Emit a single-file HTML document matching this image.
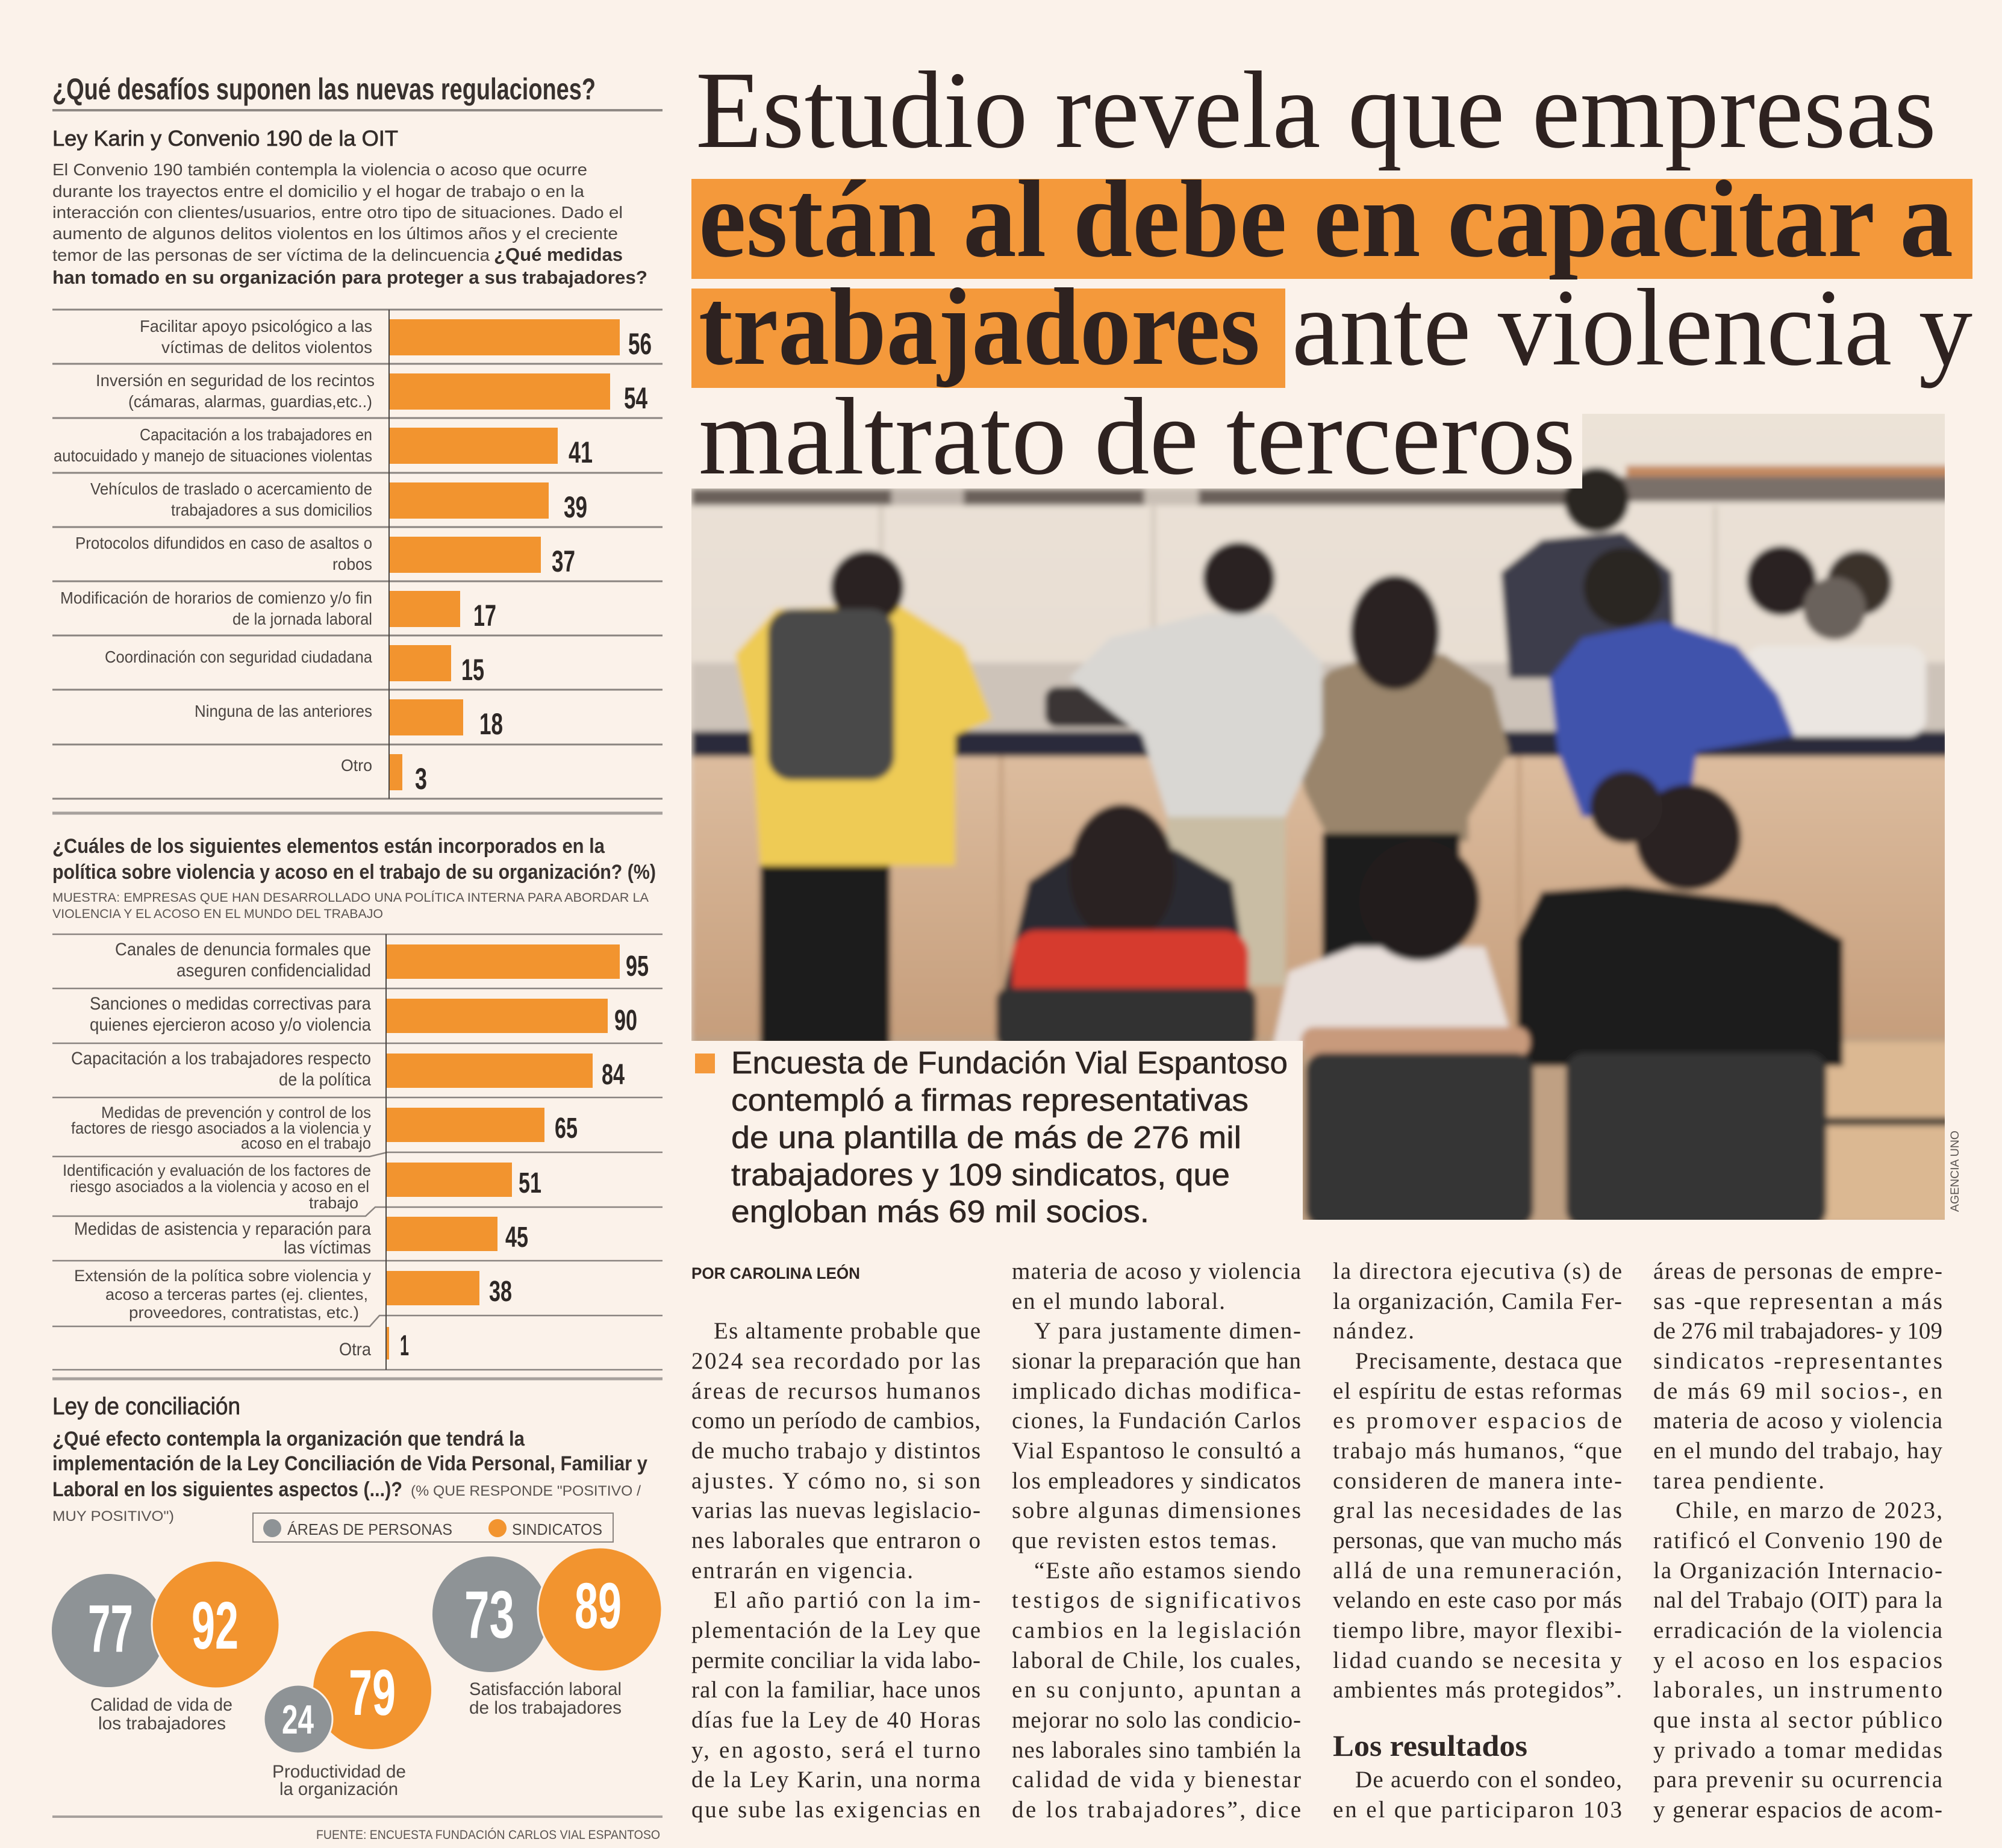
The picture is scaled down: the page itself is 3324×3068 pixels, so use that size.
<!DOCTYPE html>
<html><head><meta charset="utf-8"><style>html,body{margin:0;padding:0;background:#fbf2ea}svg{display:block}</style></head>
<body>
<svg xmlns="http://www.w3.org/2000/svg" width="3324" height="3068" viewBox="0 0 3324 3068">
<defs>
<filter id="bl" x="-5%" y="-5%" width="110%" height="110%"><feGaussianBlur stdDeviation="5"/></filter>
<clipPath id="pc"><path d="M1148,811 L2627,811 L2627,687 L3229,687 L3229,2025 L2163,2025 L2163,1728 L1148,1728 Z"/></clipPath>
<linearGradient id="ctr" x1="0" y1="0" x2="0" y2="1"><stop offset="0" stop-color="#dcbc9e"/><stop offset="1" stop-color="#c59d7b"/></linearGradient>
<linearGradient id="wall" x1="0" y1="0" x2="0" y2="1"><stop offset="0" stop-color="#ece3d8"/><stop offset="1" stop-color="#ddd2c6"/></linearGradient>
</defs>
<rect width="3324" height="3068" fill="#fbf2ea"/>

<!-- ================= LEFT COLUMN ================= -->
<g font-family="'Liberation Sans','DejaVu Sans',sans-serif">
<text x="87" y="165" font-size="50" font-weight="bold" fill="#38312e" textLength="902" lengthAdjust="spacingAndGlyphs">¿Qué desafíos suponen las nuevas regulaciones?</text>
<line x1="87" y1="183" x2="1100" y2="183" stroke="#8f8985" stroke-width="4"/>
<text x="87" y="242" font-size="36" fill="#342d2a" stroke="#342d2a" stroke-width="0.8" textLength="574" lengthAdjust="spacingAndGlyphs">Ley Karin y Convenio 190 de la OIT</text>
<g font-size="28" fill="#4b4542">
<text x="87" y="291" textLength="888" lengthAdjust="spacingAndGlyphs">El Convenio 190 también contempla la violencia o acoso que ocurre</text>
<text x="87" y="327" textLength="883" lengthAdjust="spacingAndGlyphs">durante los trayectos entre el domicilio y el hogar de trabajo o en la</text>
<text x="87" y="362" textLength="947" lengthAdjust="spacingAndGlyphs">interacción con clientes/usuarios, entre otro tipo de situaciones. Dado el</text>
<text x="87" y="397" textLength="939" lengthAdjust="spacingAndGlyphs">aumento de algunos delitos violentos en los últimos años y el creciente</text>
<text x="87" y="433" textLength="726" lengthAdjust="spacingAndGlyphs">temor de las personas de ser víctima de la delincuencia</text>
</g>
<g font-size="31" font-weight="bold" fill="#38312e">
<text x="820" y="433" textLength="214" lengthAdjust="spacingAndGlyphs">¿Qué medidas</text>
<text x="87" y="471" textLength="988" lengthAdjust="spacingAndGlyphs">han tomado en su organización para proteger a sus trabajadores?</text>
</g>

<!-- chart 1 -->
<g stroke="#8a8480" stroke-width="3">
<line x1="87" y1="514" x2="1100" y2="514"/>
<line x1="87" y1="604" x2="1100" y2="604"/>
<line x1="87" y1="694" x2="1100" y2="694"/>
<line x1="87" y1="785" x2="1100" y2="785"/>
<line x1="87" y1="875" x2="1100" y2="875"/>
<line x1="87" y1="965" x2="1100" y2="965"/>
<line x1="87" y1="1055" x2="1100" y2="1055"/>
<line x1="87" y1="1145" x2="1100" y2="1145"/>
<line x1="87" y1="1236" x2="1100" y2="1236"/>
<line x1="87" y1="1326" x2="1100" y2="1326"/>
</g>
<line x1="87" y1="1350" x2="1100" y2="1350" stroke="#a7a19d" stroke-width="5"/>
<g fill="#f2942f">
<rect x="646" y="530" width="383" height="60"/>
<rect x="646" y="620" width="367" height="60"/>
<rect x="646" y="710" width="280" height="60"/>
<rect x="646" y="801" width="265" height="60"/>
<rect x="646" y="891" width="252" height="60"/>
<rect x="646" y="981" width="118" height="60"/>
<rect x="646" y="1071" width="103" height="60"/>
<rect x="646" y="1161" width="123" height="60"/>
<rect x="646" y="1252" width="22" height="60"/>
</g>
<line x1="646" y1="514" x2="646" y2="1326" stroke="#4a4542" stroke-width="2"/>
<g font-size="50" font-weight="bold" fill="#2e2826">
<text x="1043" y="588" textLength="39" lengthAdjust="spacingAndGlyphs">56</text>
<text x="1036" y="678" textLength="39" lengthAdjust="spacingAndGlyphs">54</text>
<text x="944" y="768" textLength="40" lengthAdjust="spacingAndGlyphs">41</text>
<text x="936" y="859" textLength="39" lengthAdjust="spacingAndGlyphs">39</text>
<text x="916" y="949" textLength="39" lengthAdjust="spacingAndGlyphs">37</text>
<text x="786" y="1039" textLength="38" lengthAdjust="spacingAndGlyphs">17</text>
<text x="766" y="1129" textLength="38" lengthAdjust="spacingAndGlyphs">15</text>
<text x="796" y="1219" textLength="39" lengthAdjust="spacingAndGlyphs">18</text>
<text x="689" y="1310" textLength="20" lengthAdjust="spacingAndGlyphs">3</text>
</g>
<g font-size="28" fill="#4b4542">
<text x="232" y="551" textLength="386" lengthAdjust="spacingAndGlyphs">Facilitar apoyo psicológico a las</text>
<text x="268" y="586" textLength="350" lengthAdjust="spacingAndGlyphs">víctimas de delitos violentos</text>
<text x="159" y="641" textLength="463" lengthAdjust="spacingAndGlyphs">Inversión en seguridad de los recintos</text>
<text x="213" y="676" textLength="405" lengthAdjust="spacingAndGlyphs">(cámaras, alarmas, guardias,etc..)</text>
<text x="232" y="731" textLength="386" lengthAdjust="spacingAndGlyphs">Capacitación a los trabajadores en</text>
<text x="89" y="766" textLength="529" lengthAdjust="spacingAndGlyphs">autocuidado y manejo de situaciones violentas</text>
<text x="150" y="821" textLength="468" lengthAdjust="spacingAndGlyphs">Vehículos de traslado o acercamiento de</text>
<text x="284" y="856" textLength="334" lengthAdjust="spacingAndGlyphs">trabajadores a sus domicilios</text>
<text x="125" y="911" textLength="493" lengthAdjust="spacingAndGlyphs">Protocolos difundidos en caso de asaltos o</text>
<text x="552" y="946" textLength="66" lengthAdjust="spacingAndGlyphs">robos</text>
<text x="100" y="1002" textLength="518" lengthAdjust="spacingAndGlyphs">Modificación de horarios de comienzo y/o fin</text>
<text x="386" y="1037" textLength="232" lengthAdjust="spacingAndGlyphs">de la jornada laboral</text>
<text x="174" y="1100" textLength="444" lengthAdjust="spacingAndGlyphs">Coordinación con seguridad ciudadana</text>
<text x="323" y="1190" textLength="295" lengthAdjust="spacingAndGlyphs">Ninguna de las anteriores</text>
<text x="566" y="1280" textLength="52" lengthAdjust="spacingAndGlyphs">Otro</text>
</g>

<!-- chart 2 -->
<g font-size="34" font-weight="bold" fill="#38312e">
<text x="87" y="1416" textLength="917" lengthAdjust="spacingAndGlyphs">¿Cuáles de los siguientes elementos están incorporados en la</text>
<text x="87" y="1459" textLength="1002" lengthAdjust="spacingAndGlyphs">política sobre violencia y acoso en el trabajo de su organización? (%)</text>
</g>
<g font-size="21" fill="#5a5451">
<text x="87" y="1497" textLength="990" lengthAdjust="spacingAndGlyphs">MUESTRA: EMPRESAS QUE HAN DESARROLLADO UNA POLÍTICA INTERNA PARA ABORDAR LA</text>
<text x="87" y="1524" textLength="549" lengthAdjust="spacingAndGlyphs">VIOLENCIA Y EL ACOSO EN EL MUNDO DEL TRABAJO</text>
</g>
<g stroke="#8a8480" stroke-width="2.5" fill="none">
<line x1="87" y1="1551" x2="1100" y2="1551"/>
<line x1="87" y1="1641" x2="1100" y2="1641"/>
<line x1="87" y1="1732" x2="1100" y2="1732"/>
<line x1="87" y1="1822" x2="1100" y2="1822"/>
<polyline points="87,1920 614,1920 643,1913 1100,1913"/>
<polyline points="87,2019 607,2019 623,2004 1100,2004"/>
<line x1="87" y1="2093" x2="1100" y2="2093"/>
<polyline points="87,2202 614,2202 630,2184 1100,2184"/>
<line x1="87" y1="2274" x2="1100" y2="2274"/>
</g>
<line x1="87" y1="2289" x2="1100" y2="2289" stroke="#a7a19d" stroke-width="5"/>
<g fill="#f2942f">
<rect x="641" y="1568" width="388" height="57"/>
<rect x="641" y="1658" width="368" height="57"/>
<rect x="641" y="1749" width="343" height="57"/>
<rect x="641" y="1839" width="263" height="57"/>
<rect x="641" y="1930" width="209" height="57"/>
<rect x="641" y="2020" width="185" height="57"/>
<rect x="641" y="2110" width="155" height="57"/>
<rect x="641" y="2203" width="5" height="54"/>
</g>
<line x1="641" y1="1551" x2="641" y2="2274" stroke="#4a4542" stroke-width="2"/>
<g font-size="48" font-weight="bold" fill="#2e2826">
<text x="1039" y="1620" textLength="38" lengthAdjust="spacingAndGlyphs">95</text>
<text x="1020" y="1710" textLength="38" lengthAdjust="spacingAndGlyphs">90</text>
<text x="999" y="1800" textLength="38" lengthAdjust="spacingAndGlyphs">84</text>
<text x="921" y="1889" textLength="38" lengthAdjust="spacingAndGlyphs">65</text>
<text x="861" y="1980" textLength="38" lengthAdjust="spacingAndGlyphs">51</text>
<text x="839" y="2070" textLength="38" lengthAdjust="spacingAndGlyphs">45</text>
<text x="812" y="2160" textLength="38" lengthAdjust="spacingAndGlyphs">38</text>
<text x="664" y="2250" textLength="15" lengthAdjust="spacingAndGlyphs">1</text>
</g>
<g font-size="30" fill="#4b4542">
<text x="191" y="1586" textLength="425" lengthAdjust="spacingAndGlyphs">Canales de denuncia formales que</text>
<text x="293" y="1621" textLength="323" lengthAdjust="spacingAndGlyphs">aseguren confidencialidad</text>
<text x="149" y="1676" textLength="467" lengthAdjust="spacingAndGlyphs">Sanciones o medidas correctivas para</text>
<text x="149" y="1711" textLength="467" lengthAdjust="spacingAndGlyphs">quienes ejercieron acoso y/o violencia</text>
<text x="118" y="1767" textLength="498" lengthAdjust="spacingAndGlyphs">Capacitación a los trabajadores respecto</text>
<text x="463" y="1802" textLength="153" lengthAdjust="spacingAndGlyphs">de la política</text>
<text x="123" y="2050" textLength="493" lengthAdjust="spacingAndGlyphs">Medidas de asistencia y reparación para</text>
<text x="471" y="2081" textLength="145" lengthAdjust="spacingAndGlyphs">las víctimas</text>
<text x="563" y="2250" textLength="53" lengthAdjust="spacingAndGlyphs">Otra</text>
</g>
<g font-size="27" fill="#4b4542">
<text x="168" y="1856" textLength="448" lengthAdjust="spacingAndGlyphs">Medidas de prevención y control de los</text>
<text x="118" y="1882" textLength="498" lengthAdjust="spacingAndGlyphs">factores de riesgo asociados a la violencia y</text>
<text x="400" y="1907" textLength="216" lengthAdjust="spacingAndGlyphs">acoso en el trabajo</text>
<text x="104" y="1952" textLength="512" lengthAdjust="spacingAndGlyphs">Identificación y evaluación de los factores de</text>
<text x="116" y="1979" textLength="497" lengthAdjust="spacingAndGlyphs">riesgo asociados a la violencia y acoso en el</text>
<text x="513" y="2006" textLength="82" lengthAdjust="spacingAndGlyphs">trabajo</text>
<text x="123" y="2127" textLength="493" lengthAdjust="spacingAndGlyphs">Extensión de la política sobre violencia y</text>
<text x="175" y="2158" textLength="436" lengthAdjust="spacingAndGlyphs">acoso a terceras partes (ej. clientes,</text>
<text x="214" y="2188" textLength="382" lengthAdjust="spacingAndGlyphs">proveedores, contratistas, etc.)</text>
</g>

<!-- Ley de conciliación -->
<text x="87" y="2348" font-size="40" fill="#342d2a" stroke="#342d2a" stroke-width="0.8" textLength="312" lengthAdjust="spacingAndGlyphs">Ley de conciliación</text>
<g font-size="34" font-weight="bold" fill="#38312e">
<text x="87" y="2400" textLength="784" lengthAdjust="spacingAndGlyphs">¿Qué efecto contempla la organización que tendrá la</text>
<text x="87" y="2441" textLength="988" lengthAdjust="spacingAndGlyphs">implementación de la Ley Conciliación de Vida Personal, Familiar y</text>
<text x="87" y="2484" textLength="581" lengthAdjust="spacingAndGlyphs">Laboral en los siguientes aspectos (...)?</text>
</g>
<g font-size="24" fill="#5a5451">
<text x="682" y="2483" textLength="382" lengthAdjust="spacingAndGlyphs">(% QUE RESPONDE "POSITIVO /</text>
<text x="87" y="2525" textLength="202" lengthAdjust="spacingAndGlyphs">MUY POSITIVO")</text>
</g>
<rect x="420" y="2512" width="598" height="48" fill="none" stroke="#8a8480" stroke-width="2"/>
<circle cx="452" cy="2537" r="15" fill="#8e9396"/>
<circle cx="826" cy="2537" r="15" fill="#f2942f"/>
<g font-size="26" fill="#4b4542">
<text x="477" y="2548" textLength="274" lengthAdjust="spacingAndGlyphs">ÁREAS DE PERSONAS</text>
<text x="850" y="2548" textLength="150" lengthAdjust="spacingAndGlyphs">SINDICATOS</text>
</g>
<circle cx="180" cy="2707" r="94" fill="#8e9396"/>
<circle cx="358" cy="2697" r="106" fill="#f2942f" stroke="#fbf2ea" stroke-width="3"/>
<circle cx="618" cy="2806" r="98" fill="#f2942f"/>
<circle cx="495" cy="2854" r="57" fill="#8e9396" stroke="#fbf2ea" stroke-width="3"/>
<circle cx="814" cy="2680" r="96" fill="#8e9396"/>
<circle cx="996" cy="2672" r="103" fill="#f2942f" stroke="#fbf2ea" stroke-width="3"/>
<g font-weight="bold" fill="#ffffff">
<text x="146" y="2742" font-size="111" textLength="75" lengthAdjust="spacingAndGlyphs">77</text>
<text x="318" y="2737" font-size="111" textLength="78" lengthAdjust="spacingAndGlyphs">92</text>
<text x="771" y="2719" font-size="111" textLength="83" lengthAdjust="spacingAndGlyphs">73</text>
<text x="954" y="2703" font-size="108" textLength="78" lengthAdjust="spacingAndGlyphs">89</text>
<text x="579" y="2847" font-size="108" textLength="78" lengthAdjust="spacingAndGlyphs">79</text>
<text x="468" y="2878" font-size="68" textLength="53" lengthAdjust="spacingAndGlyphs">24</text>
</g>
<g font-size="30" fill="#4b4542">
<text x="150" y="2840" textLength="236" lengthAdjust="spacingAndGlyphs">Calidad de vida de</text>
<text x="163" y="2871" textLength="212" lengthAdjust="spacingAndGlyphs">los trabajadores</text>
<text x="452" y="2951" textLength="222" lengthAdjust="spacingAndGlyphs">Productividad de</text>
<text x="464" y="2980" textLength="197" lengthAdjust="spacingAndGlyphs">la organización</text>
<text x="779" y="2814" textLength="253" lengthAdjust="spacingAndGlyphs">Satisfacción laboral</text>
<text x="779" y="2845" textLength="253" lengthAdjust="spacingAndGlyphs">de los trabajadores</text>
</g>
<line x1="87" y1="3016" x2="1100" y2="3016" stroke="#a7a19d" stroke-width="4"/>
<text x="525" y="3053" font-size="21" fill="#5a5451" textLength="571" lengthAdjust="spacingAndGlyphs">FUENTE: ENCUESTA FUNDACIÓN CARLOS VIAL ESPANTOSO</text>
</g>

<!-- ================= PHOTO ================= -->
<g clip-path="url(#pc)">
<g filter="url(#bl)">
<rect x="1100" y="650" width="2200" height="1420" fill="url(#wall)"/>
<rect x="2700" y="773" width="540" height="18" fill="#c48a60"/>
<rect x="2640" y="791" width="600" height="42" fill="#7a7069"/>
<rect x="1148" y="811" width="1480" height="28" fill="#6a615a"/>
<rect x="1480" y="811" width="120" height="28" fill="#bdb3aa"/>
<rect x="1900" y="811" width="90" height="28" fill="#c9bfb5"/>
<rect x="1460" y="840" width="6" height="380" fill="#cfc4b8"/>
<rect x="1912" y="840" width="6" height="380" fill="#cfc4b8"/>
<rect x="2845" y="840" width="6" height="380" fill="#cfc4b8"/>
<rect x="1148" y="1100" width="2090" height="114" fill="#cdc3b9"/>
<rect x="1148" y="1214" width="2090" height="42" fill="#292b3a"/>
<rect x="1148" y="1256" width="2090" height="480" fill="url(#ctr)"/>
<rect x="1660" y="1256" width="5" height="470" fill="#b99473"/>
<rect x="2520" y="1256" width="5" height="470" fill="#b99473"/>
<rect x="1148" y="1720" width="2090" height="320" fill="#bfa083"/>
<rect x="3030" y="1730" width="210" height="300" fill="#dbb892"/>
<rect x="3030" y="1855" width="210" height="14" fill="#4a3f38"/>

<!-- standing people -->
<polygon points="2492,950 2560,896 2695,883 2776,950 2783,1126 2506,1126" fill="#3d3e4b"/>
<circle cx="2651" cy="830" r="54" fill="#2c2624"/>
<rect x="2898" y="1072" width="300" height="150" rx="30" fill="#ebe6e1"/>
<circle cx="2958" cy="964" r="58" fill="#2a2321"/>
<circle cx="3087" cy="968" r="54" fill="#3a302c"/>
<circle cx="3046" cy="1010" r="52" fill="#6a625c"/>
<polygon points="2573,1126 2627,1059 2762,1032 2884,1072 2952,1153 2979,1221 2817,1248 2803,1356 2627,1356 2587,1248" fill="#4052ac"/>
<circle cx="2695" cy="975" r="66" fill="#2b2624"/>
<polygon points="2140,1194 2208,1113 2289,1086 2397,1086 2478,1140 2506,1248 2438,1356 2438,1397 2208,1397 2167,1315" fill="#9a856c"/>
<ellipse cx="2316" cy="1050" rx="74" ry="95" fill="#2b2220"/>
<rect x="2195" y="1383" width="229" height="250" fill="#1f1d1e"/>
<rect x="1735" y="1140" width="162" height="67" rx="20" fill="#3a3634"/>
<polygon points="1775,1126 1843,1059 2005,1018 2113,1018 2195,1099 2195,1221 2134,1356 1938,1356 1897,1221" fill="#d9d7d3"/>
<circle cx="2057" cy="960" r="60" fill="#2a2422"/>
<rect x="1938" y="1356" width="196" height="280" fill="#c9bda4"/>
<polygon points="1221,1086 1289,1011 1492,1004 1600,1072 1647,1194 1586,1221 1586,1437 1262,1437 1248,1221" fill="#eecb55"/>
<circle cx="1440" cy="975" r="61" fill="#2a2320"/>
<rect x="1275" y="1011" width="210" height="284" rx="40" fill="#4a4a48"/>
<rect x="1262" y="1437" width="216" height="300" fill="#1e1c1c"/>

<!-- seated people -->
<polygon points="1667,1640 1708,1464 1789,1410 1951,1410 2046,1464 2073,1640" fill="#2a2a33"/>
<ellipse cx="1863" cy="1450" rx="88" ry="115" fill="#2a2320"/>
<rect x="1681" y="1545" width="392" height="150" rx="40" fill="#d63a2d"/>
<rect x="1654" y="1640" width="432" height="100" rx="20" fill="#333333"/>
<polygon points="2519,1560 2560,1480 2700,1470 2950,1500 3060,1560 3060,1770 2519,1770" fill="#1f1d1f"/>
<circle cx="2803" cy="1390" r="88" fill="#2a2422"/>
<circle cx="2700" cy="1340" r="60" fill="#2e2826"/>
<polygon points="2113,1740 2140,1613 2249,1572 2465,1572 2506,1707 2492,1750" fill="#e8dfda"/>
<circle cx="2357" cy="1495" r="100" fill="#241d1c"/>
<rect x="2160" y="1705" width="380" height="50" rx="22" fill="#c89a7c"/>
<rect x="2168" y="1748" width="378" height="290" rx="30" fill="#353535"/>
<rect x="2600" y="1748" width="433" height="290" rx="30" fill="#363636"/>
</g>
</g>
<text transform="translate(3252,2012) rotate(-90)" font-family="'Liberation Sans',sans-serif" font-size="19" fill="#5a5451" textLength="135" lengthAdjust="spacingAndGlyphs">AGENCIA UNO</text>

<!-- ================= HEADLINE ================= -->
<rect x="1148" y="297" width="2127" height="166" fill="#f4993b"/>
<rect x="1148" y="479" width="986" height="165" fill="#f4993b"/>
<g font-family="'Liberation Serif','DejaVu Serif',serif" font-size="183" fill="#2e2220">
<text x="1155" y="244" textLength="2060" lengthAdjust="spacingAndGlyphs">Estudio revela que empresas</text>
<text x="1160" y="425" font-weight="bold" textLength="2083" lengthAdjust="spacingAndGlyphs">están al debe en capacitar a</text>
<text x="1160" y="604" font-weight="bold" textLength="932" lengthAdjust="spacingAndGlyphs">trabajadores</text>
<text x="2145" y="605" textLength="1130" lengthAdjust="spacingAndGlyphs">ante violencia y</text>
<text x="1160" y="786" textLength="1456" lengthAdjust="spacingAndGlyphs">maltrato de terceros</text>
</g>

<!-- ================= CAPTION ================= -->
<rect x="1154" y="1749" width="33" height="33" fill="#f4993b"/>
<g font-family="'Liberation Sans','DejaVu Sans',sans-serif" font-size="52" fill="#2e2522" stroke="#2e2522" stroke-width="0.6">
<text x="1214" y="1782" textLength="924" lengthAdjust="spacingAndGlyphs">Encuesta de Fundación Vial Espantoso</text>
<text x="1214" y="1844" textLength="859" lengthAdjust="spacingAndGlyphs">contempló a firmas representativas</text>
<text x="1214" y="1906" textLength="847" lengthAdjust="spacingAndGlyphs">de una plantilla de más de 276 mil</text>
<text x="1214" y="1968" textLength="828" lengthAdjust="spacingAndGlyphs">trabajadores y 109 sindicatos, que</text>
<text x="1214" y="2029" textLength="694" lengthAdjust="spacingAndGlyphs">engloban más 69 mil socios.</text>
</g>

<!-- ================= BODY ================= -->
<text x="1148" y="2123" font-family="'Liberation Sans','DejaVu Sans',sans-serif" font-size="27" font-weight="bold" fill="#2e2522" textLength="280" lengthAdjust="spacingAndGlyphs">POR CAROLINA LEÓN</text>
<g font-family="'Liberation Serif','DejaVu Serif',serif" font-size="39" fill="#2f2725">
<!-- col 1 -->
<text x="1185" y="2222" textLength="443" lengthAdjust="spacing">Es altamente probable que</text>
<text x="1148" y="2272" textLength="480" lengthAdjust="spacing">2024 sea recordado por las</text>
<text x="1148" y="2322" textLength="480" lengthAdjust="spacing">áreas de recursos humanos</text>
<text x="1148" y="2371" textLength="480" lengthAdjust="spacing">como un período de cambios,</text>
<text x="1148" y="2421" textLength="480" lengthAdjust="spacing">de mucho trabajo y distintos</text>
<text x="1148" y="2471" textLength="480" lengthAdjust="spacing">ajustes. Y cómo no, si son</text>
<text x="1148" y="2520" textLength="480" lengthAdjust="spacing">varias las nuevas legislacio-</text>
<text x="1148" y="2570" textLength="480" lengthAdjust="spacing">nes laborales que entraron o</text>
<text x="1148" y="2620" textLength="368" lengthAdjust="spacing">entrarán en vigencia.</text>
<text x="1185" y="2669" textLength="443" lengthAdjust="spacing">El año partió con la im-</text>
<text x="1148" y="2719" textLength="480" lengthAdjust="spacing">plementación de la Ley que</text>
<text x="1148" y="2769" textLength="480" lengthAdjust="spacing">permite conciliar la vida labo-</text>
<text x="1148" y="2818" textLength="480" lengthAdjust="spacing">ral con la familiar, hace unos</text>
<text x="1148" y="2868" textLength="480" lengthAdjust="spacing">días fue la Ley de 40 Horas</text>
<text x="1148" y="2918" textLength="480" lengthAdjust="spacing">y, en agosto, será el turno</text>
<text x="1148" y="2967" textLength="480" lengthAdjust="spacing">de la Ley Karin, una norma</text>
<text x="1148" y="3017" textLength="480" lengthAdjust="spacing">que sube las exigencias en</text>
<!-- col 2 -->
<text x="1680" y="2123" textLength="480" lengthAdjust="spacing">materia de acoso y violencia</text>
<text x="1680" y="2173" textLength="354" lengthAdjust="spacing">en el mundo laboral.</text>
<text x="1717" y="2222" textLength="443" lengthAdjust="spacing">Y para justamente dimen-</text>
<text x="1680" y="2272" textLength="480" lengthAdjust="spacing">sionar la preparación que han</text>
<text x="1680" y="2322" textLength="480" lengthAdjust="spacing">implicado dichas modifica-</text>
<text x="1680" y="2371" textLength="480" lengthAdjust="spacing">ciones, la Fundación Carlos</text>
<text x="1680" y="2421" textLength="480" lengthAdjust="spacing">Vial Espantoso le consultó a</text>
<text x="1680" y="2471" textLength="480" lengthAdjust="spacing">los empleadores y sindicatos</text>
<text x="1680" y="2520" textLength="480" lengthAdjust="spacing">sobre algunas dimensiones</text>
<text x="1680" y="2570" textLength="440" lengthAdjust="spacing">que revisten estos temas.</text>
<text x="1717" y="2620" textLength="443" lengthAdjust="spacing">“Este año estamos siendo</text>
<text x="1680" y="2669" textLength="480" lengthAdjust="spacing">testigos de significativos</text>
<text x="1680" y="2719" textLength="480" lengthAdjust="spacing">cambios en la legislación</text>
<text x="1680" y="2769" textLength="480" lengthAdjust="spacing">laboral de Chile, los cuales,</text>
<text x="1680" y="2818" textLength="480" lengthAdjust="spacing">en su conjunto, apuntan a</text>
<text x="1680" y="2868" textLength="480" lengthAdjust="spacing">mejorar no solo las condicio-</text>
<text x="1680" y="2918" textLength="480" lengthAdjust="spacing">nes laborales sino también la</text>
<text x="1680" y="2967" textLength="480" lengthAdjust="spacing">calidad de vida y bienestar</text>
<text x="1680" y="3017" textLength="480" lengthAdjust="spacing">de los trabajadores”, dice</text>
<!-- col 3 -->
<text x="2213" y="2123" textLength="480" lengthAdjust="spacing">la directora ejecutiva (s) de</text>
<text x="2213" y="2173" textLength="480" lengthAdjust="spacing">la organización, Camila Fer-</text>
<text x="2213" y="2222" textLength="135" lengthAdjust="spacing">nández.</text>
<text x="2250" y="2272" textLength="443" lengthAdjust="spacing">Precisamente, destaca que</text>
<text x="2213" y="2322" textLength="480" lengthAdjust="spacing">el espíritu de estas reformas</text>
<text x="2213" y="2371" textLength="480" lengthAdjust="spacing">es promover espacios de</text>
<text x="2213" y="2421" textLength="480" lengthAdjust="spacing">trabajo más humanos, “que</text>
<text x="2213" y="2471" textLength="480" lengthAdjust="spacing">consideren de manera inte-</text>
<text x="2213" y="2520" textLength="480" lengthAdjust="spacing">gral las necesidades de las</text>
<text x="2213" y="2570" textLength="480" lengthAdjust="spacing">personas, que van mucho más</text>
<text x="2213" y="2620" textLength="480" lengthAdjust="spacing">allá de una remuneración,</text>
<text x="2213" y="2669" textLength="480" lengthAdjust="spacing">velando en este caso por más</text>
<text x="2213" y="2719" textLength="480" lengthAdjust="spacing">tiempo libre, mayor flexibi-</text>
<text x="2213" y="2769" textLength="480" lengthAdjust="spacing">lidad cuando se necesita y</text>
<text x="2213" y="2818" textLength="480" lengthAdjust="spacing">ambientes más protegidos”.</text>
<text x="2213" y="2915" font-size="50" font-weight="bold" textLength="323" lengthAdjust="spacingAndGlyphs">Los resultados</text>
<text x="2250" y="2967" textLength="443" lengthAdjust="spacing">De acuerdo con el sondeo,</text>
<text x="2213" y="3017" textLength="480" lengthAdjust="spacing">en el que participaron 103</text>
<!-- col 4 -->
<text x="2745" y="2123" textLength="480" lengthAdjust="spacing">áreas de personas de empre-</text>
<text x="2745" y="2173" textLength="480" lengthAdjust="spacing">sas -que representan a más</text>
<text x="2745" y="2222" textLength="480" lengthAdjust="spacing">de 276 mil trabajadores- y 109</text>
<text x="2745" y="2272" textLength="480" lengthAdjust="spacing">sindicatos -representantes</text>
<text x="2745" y="2322" textLength="480" lengthAdjust="spacing">de más 69 mil socios-, en</text>
<text x="2745" y="2371" textLength="480" lengthAdjust="spacing">materia de acoso y violencia</text>
<text x="2745" y="2421" textLength="480" lengthAdjust="spacing">en el mundo del trabajo, hay</text>
<text x="2745" y="2471" textLength="284" lengthAdjust="spacing">tarea pendiente.</text>
<text x="2782" y="2520" textLength="443" lengthAdjust="spacing">Chile, en marzo de 2023,</text>
<text x="2745" y="2570" textLength="480" lengthAdjust="spacing">ratificó el Convenio 190 de</text>
<text x="2745" y="2620" textLength="480" lengthAdjust="spacing">la Organización Internacio-</text>
<text x="2745" y="2669" textLength="480" lengthAdjust="spacing">nal del Trabajo (OIT) para la</text>
<text x="2745" y="2719" textLength="480" lengthAdjust="spacing">erradicación de la violencia</text>
<text x="2745" y="2769" textLength="480" lengthAdjust="spacing">y el acoso en los espacios</text>
<text x="2745" y="2818" textLength="480" lengthAdjust="spacing">laborales, un instrumento</text>
<text x="2745" y="2868" textLength="480" lengthAdjust="spacing">que insta al sector público</text>
<text x="2745" y="2918" textLength="480" lengthAdjust="spacing">y privado a tomar medidas</text>
<text x="2745" y="2967" textLength="480" lengthAdjust="spacing">para prevenir su ocurrencia</text>
<text x="2745" y="3017" textLength="480" lengthAdjust="spacing">y generar espacios de acom-</text>
</g>
</svg>
</body></html>
